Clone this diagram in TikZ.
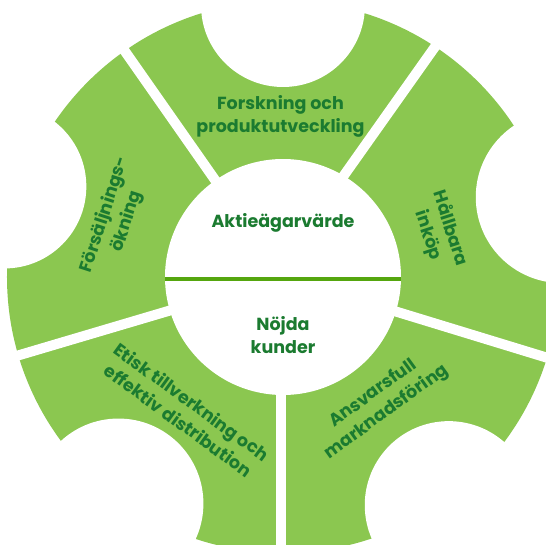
\documentclass[tikz,border=0pt]{standalone}
\usepackage{fontspec}
\setmainfont{Poppins}
\definecolor{leaf}{HTML}{8BC750}
\definecolor{darkleaf}{HTML}{1B7B30}
\definecolor{stem}{HTML}{55A60E}

\begin{document}
\begin{tikzpicture}[
		gap/.style={white, line width=10pt},
		notch/.style={fill=white},
		label/.style={text=darkleaf, font=\bfseries\fontsize{17.5}{23}\selectfont, align=center, inner sep=1pt},
	]
			\useasboundingbox (-283pt, -267pt) rectangle (263pt, 277pt);
			\clip (-283pt, -267pt) rectangle (263pt, 277pt);
			\fill[leaf] (0, 0) circle (276pt);
			% notches in the rim
			\fill[notch] (90:272pt) circle (82pt);
			\fill[notch] (16:290pt) circle (86pt);
			\fill[notch] (162:293pt) circle (82pt);
			\fill[notch] (234:280pt) circle (85pt);
			\fill[notch] (306:282pt) circle (84pt);
			% gaps between the pieces
			\draw[gap] (-7.3pt, 5.2pt) -- ++(54.7:300pt);
			\draw[gap] (0, 0) -- (125:300pt);
			\draw[gap] (0, 0) -- (196.5:300pt);
			\draw[gap] (-2pt, 0) -- ++(270:300pt);
			\draw[gap] (0, 0) -- (343:300pt);
			\fill[white] (0, 0) circle (118pt);
			\coordinate (west) at (-118pt, -2pt);
			\coordinate (east) at (118pt, -2pt);
			\draw[stem, line width=4pt] (west) -- (east);
			\node[label] (owners) at (0pt, 54pt) {Aktieägarvärde};
			\node[label] (customers) at (0pt, -58pt) {Nöjda\\kunder};
			\node[label] (research) at (-2.5pt, 161pt) {Forskning och\\produktutveckling};
			\node[label, rotate=72] (sales) at (-167pt, 59pt) {Försäljnings-\\ökning};
			\node[label, rotate=-72] (sourcing) at (156pt, 45pt) {Hållbara\\inköp};
			\node[label, rotate=-36] (production) at (-98pt, -134pt) {Etisk tillverkning och\\effektiv distribution};
			\node[label, rotate=36] (marketing) at (97pt, -126pt) {Ansvarsfull\\marknadsföring};
		\end{tikzpicture}
\end{document}
